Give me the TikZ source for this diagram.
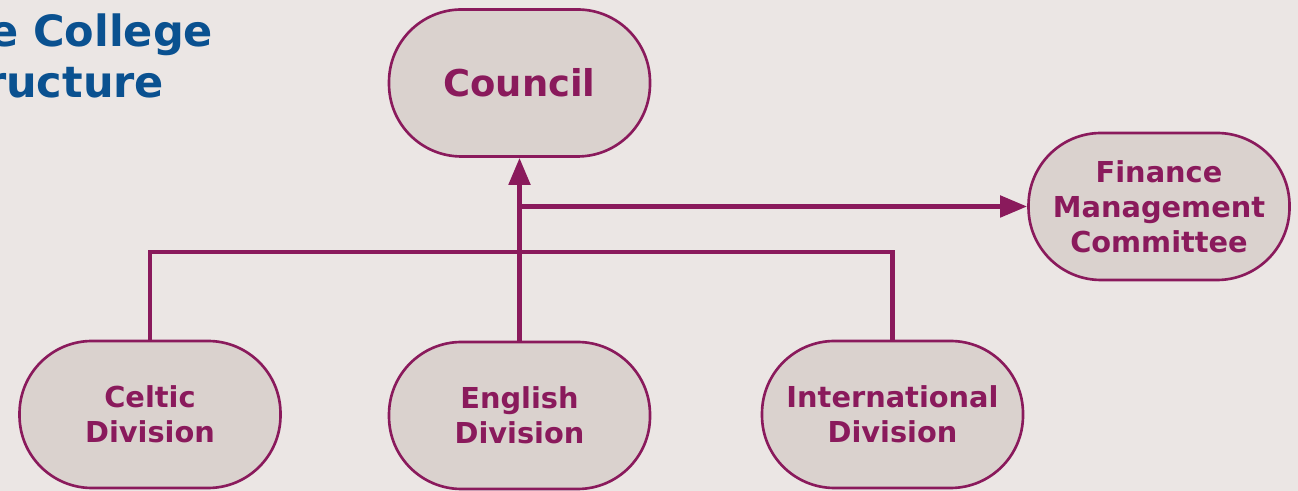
\documentclass[tikz,border=0pt]{standalone}
\usepackage{fontspec}
\setmainfont{DejaVu Sans}
\usepackage{tikz}
\usetikzlibrary{arrows.meta}
\definecolor{plum}{HTML}{8A1A5C}
\definecolor{boxfill}{HTML}{DAD2CE}
\definecolor{pagebg}{HTML}{EBE6E4}
\definecolor{headblue}{HTML}{0A5190}
\begin{document}
\begin{tikzpicture}[
		unit/.style={draw=plum,fill=boxfill,line width=1.5pt,rounded corners=1.45cm,
			minimum width=5.22cm,minimum height=2.94cm,align=center,text=plum,
			font=\fontsize{16.4}{20}\selectfont\bfseries},
		heading/.style={anchor=base east,inner sep=0pt,text=headblue,
			font=\fontsize{24.5}{29}\selectfont\bfseries},
		link/.style={draw=plum,line width=2.8pt},
		tip/.style={-{Triangle[length=0.54cm,width=0.42cm]}}
	]
		\fill[pagebg] (0,0) rectangle (25.96,9.82);
		\useasboundingbox (0,0) rectangle (25.96,9.82);
		
		\node[heading] (head1) at (4.27,8.88) {e College};
		\node[heading] (head2) at (3.29,7.86) {ructure};
		
		\node[unit,font=\fontsize{21}{25}\selectfont\bfseries] (council) at (10.39,8.16) {Council};
		\node[unit] (finance) at (23.18,5.69) {Finance\\Management\\Committee};
		\node[unit] (celtic) at (3.00,1.53) {Celtic\\Division};
		\node[unit] (english) at (10.39,1.51) {English\\Division};
		\node[unit] (intl) at (17.85,1.53) {International\\Division};
		
		\coordinate (bar) at (10.39,4.78);
		
		\draw[link] (celtic.north) |- (bar) -| (intl.north);
		\draw[link,tip] (english.north) -- (council.south);
		\draw[link,tip] (council.south |- finance.west) -- (finance.west);
	\end{tikzpicture}
\end{document}
